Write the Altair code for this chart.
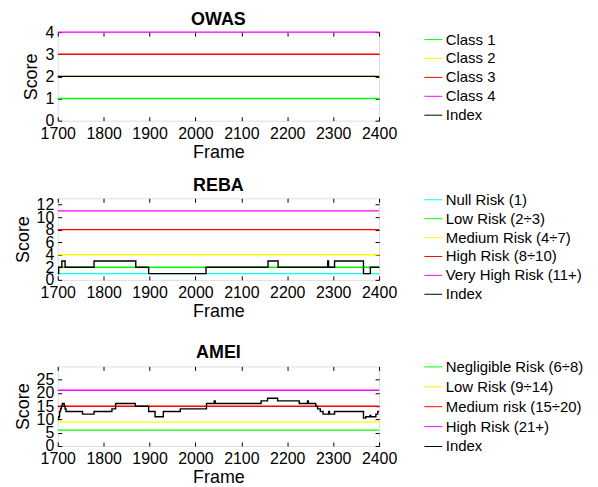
import altair as alt
import pandas as pd

FONT = "Liberation Sans"

frame_range = [1700, 2400]
frame_ticks = [1700, 1800, 1900, 2000, 2100, 2200, 2300, 2400]

# OWAS
owas_labels = ["Class 1", "Class 2", "Class 3", "Class 4", "Index"]
owas_levels = [1, 2, 3, 4]
owas_colors = ["#00ff00", "#ffff00", "#ff0000", "#ff00ff", "#000000"]
owas_frames = [1700, 2400]
owas_index = [2, 2]
owas_yticks = [0, 1, 2, 3, 4]

# REBA
reba_labels = ["Null Risk (1)", "Low Risk (2÷3)", "Medium Risk (4÷7)",
               "High Risk (8÷10)", "Very High Risk (11+)", "Index"]
reba_levels = [1, 2, 4, 8, 11]
reba_colors = ["#00ffff", "#00ff00", "#ffff00", "#ff0000", "#ff00ff", "#000000"]
reba_frames = [1700, 1702, 1709, 1716, 1779, 1870, 1898, 2023, 2158, 2180,
               2288, 2290, 2303, 2366, 2381, 2400]
reba_index = [1, 2, 3, 2, 3, 2, 1, 2, 3, 2,
              3, 2, 3, 1, 2, 2]
reba_yticks = [0, 2, 4, 6, 8, 10, 12]

# AMEI
amei_labels = ["Negligible Risk (6÷8)", "Low Risk (9÷14)", "Medium risk (15÷20)",
               "High Risk (21+)", "Index"]
amei_levels = [6, 9, 15, 21]
amei_colors = ["#00ff00", "#ffff00", "#ff0000", "#ff00ff", "#000000"]
amei_frames = [1700, 1702, 1704, 1706, 1708, 1710, 1714, 1716, 1718, 1754,
               1779, 1818, 1826, 1869, 1898, 1912, 1930, 1967, 2024, 2041,
               2043, 2143, 2157, 2179, 2226, 2244, 2246, 2262, 2266, 2272,
               2278, 2290, 2292, 2303, 2366, 2371, 2380, 2382, 2393, 2397, 2400]
amei_index = [10, 11, 13, 14, 15, 16, 15, 14, 13, 12,
              13, 14, 16, 15, 13, 11, 13, 14, 16, 17,
              16, 17, 18, 17, 16, 17, 16, 15, 14, 13,
              12, 13, 12, 13, 10.5, 11, 11.5, 11, 12, 13, 13]
amei_yticks = [0, 5, 10, 15, 20, 25]


def panel(title, labels, levels, colors, frames, index, ydomain, yticks,
          height, legend_y, row_pad):
    thr = pd.DataFrame([
        {"series": lab, "frame": f, "score": v}
        for lab, v in zip(labels[:-1], levels) for f in frame_range
    ])
    idx = pd.DataFrame({"series": labels[-1], "frame": frames, "score": index})

    legend = alt.Legend(
        title=None, orient="none", legendX=368, legendY=legend_y,
        symbolType="stroke", symbolSize=324, symbolStrokeWidth=1,
        labelFont=FONT, labelFontSize=15, labelColor="black",
        labelOffset=3, rowPadding=row_pad, padding=0, labelLimit=300,
    )
    color = alt.Color("series:N", scale=alt.Scale(domain=labels, range=colors),
                      legend=legend)
    xscale = alt.Scale(domain=frame_range, nice=False, zero=False)
    yscale = alt.Scale(domain=ydomain, nice=False, zero=False)

    common = dict(offset=-4, tickSize=4, tickColor="black", domain=False,
                  grid=False, labelOverlap=False)
    x_bottom = alt.Axis(orient="bottom", values=frame_ticks, format="d",
                        labelFlush=False, labelFont=FONT, labelFontSize=16,
                        labelColor="black", labelPadding=5, title="Frame",
                        titleFont=FONT, titleFontSize=18, titleFontWeight="normal",
                        titleColor="black", titlePadding=2, **common)
    y_left = alt.Axis(orient="left", values=yticks, labelFont=FONT,
                      labelFontSize=16, labelColor="black", labelPadding=4,
                      labelFlush=False, title="Score", titleFont=FONT,
                      titleFontSize=18, titleFontWeight="normal",
                      titleColor="black", titlePadding=4, **common)
    x_top = alt.Axis(orient="top", values=frame_ticks, labels=False, title=None,
                     minExtent=0, maxExtent=0, **common)
    y_right = alt.Axis(orient="right", values=yticks, labels=False, title=None,
                       minExtent=0, maxExtent=0, **common)

    thr_layer = alt.Chart(thr).mark_line(strokeWidth=1.4).encode(
        x=alt.X("frame:Q", scale=xscale, axis=x_bottom),
        y=alt.Y("score:Q", scale=yscale, axis=y_left),
        color=color,
    )
    idx_layer = alt.Chart(idx).mark_line(interpolate="step-after",
                                         strokeWidth=1.4).encode(
        x=alt.X("frame:Q", scale=xscale, axis=x_top),
        y=alt.Y("score:Q", scale=yscale, axis=y_right),
        color=color,
    )
    return alt.layer(thr_layer, idx_layer).resolve_axis(
        x="independent", y="independent"
    ).properties(
        width=323, height=height,
        title=alt.TitleParams(title, font=FONT, fontSize=18, fontWeight="bold",
                              color="black", offset=6, dy=11),
    )


def spacer(h):
    return alt.Chart(pd.DataFrame({"a": [0]})).mark_point(opacity=0).encode(
        x=alt.X("a:Q", axis=None), y=alt.Y("a:Q", axis=None)
    ).properties(width=323, height=h, view=alt.ViewBackground(stroke=None))


owas = panel("OWAS", owas_labels, owas_levels, owas_colors, owas_frames,
             owas_index, [0, 4], owas_yticks, 89, -2, 1)
reba = panel("REBA", reba_labels, reba_levels, reba_colors, reba_frames,
             reba_index, [0, 13], reba_yticks, 82, -8, 1)
amei = panel("AMEI", amei_labels, amei_levels, amei_colors, amei_frames,
             amei_index, [0, 30], amei_yticks, 80, -9, 2)

chart = alt.vconcat(owas, spacer(1), reba, spacer(10), amei,
                    spacing=38.5, bounds="flush").resolve_scale(
    color="independent", x="independent", y="independent"
).properties(
    padding={"left": 5, "top": 1, "right": 5, "bottom": 5}
).configure_view(stroke="black", strokeWidth=1).configure(background="white")

chart.save("out.html", embed_options={"renderer": "svg", "actions": False})
